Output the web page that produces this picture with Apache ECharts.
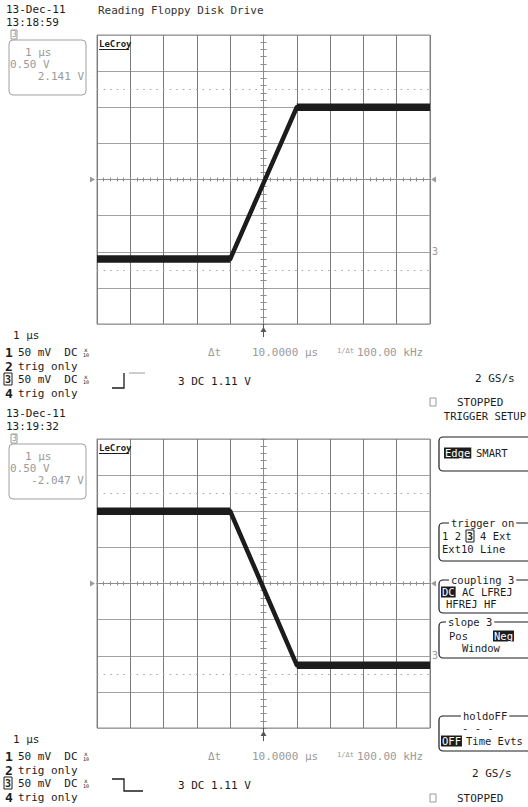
<!DOCTYPE html>
<html>
<head>
<meta charset="utf-8">
<title>Reading Floppy Disk Drive</title>
<script src="https://cdn.jsdelivr.net/npm/echarts@6/dist/echarts.min.js"></script>
<style>
  html, body { margin: 0; padding: 0; background: #fff; }
  #scope { width: 528px; height: 807px; }
</style>
</head>
<body>
<div id="scope"></div>
<script>
// Horizontal axis: microseconds, 1 µs/div, trigger at screen centre
const timeRange = [-5, 5];
const timeStep = 1;
// Vertical axis: volts, 0.50 V/div, channel 3 ground at 0 V
const voltRange = [-1, 3];
const voltStep = 0.5;
const groundVolts = 0;

// Capture 1 (13:18:59): rising edge, breakpoints [µs] / [V]
const risingTime = [-5, -1, 1, 5];
const risingVolts = [-0.1, -0.1, 2.0, 2.0];
// Capture 2 (13:19:32): falling edge
const fallingTime = [-5, -1, 1, 5];
const fallingVolts = [2.0, 2.0, -0.13, -0.13];

// Dotted horizontal cursors (V)
const cursorVolts = [2.25, -0.25];

// Screen geometry
const GRID_LEFT = 97, GRID_W = 333, GRID_H = 289;
const gridTops = [35, 439];

const INK = '#1c1c1c', DIM = '#9a9a9a', RULE = '#8c8c8c', DOT = '#a8a8a8';
const RULE_V = '#7c7c7c', RULE_H = '#a2a2a2';
const MONO = '"DejaVu Sans Mono", "Liberation Mono", monospace';
const MENU_FONT = 10.5, MENU_CHAR_W = 6.32;

const captures = [
  { time: risingTime, volts: risingVolts },
  { time: fallingTime, volts: fallingVolts }
];

const zip = (t, v) => t.map((x, i) => [x, v[i]]);

const grids = [], xAxes = [], yAxes = [], series = [];

captures.forEach((cap, gi) => {
  grids.push({ left: GRID_LEFT, top: gridTops[gi], width: GRID_W, height: GRID_H,
    show: true, borderColor: RULE, borderWidth: 1, backgroundColor: 'transparent' });

  const xBase = { gridIndex: gi, type: 'value', min: timeRange[0], max: timeRange[1], interval: timeStep,
    axisLabel: { show: false }, splitLine: { show: false } };
  const yBase = { gridIndex: gi, type: 'value', min: voltRange[0], max: voltRange[1], interval: voltStep,
    axisLabel: { show: false }, splitLine: { show: false } };

  // graticule
  xAxes.push(Object.assign({}, xBase, {
    axisLine: { show: false, onZero: false }, axisTick: { show: false },
    splitLine: { show: true, lineStyle: { color: RULE_V, width: 1 } } }));
  // centre horizontal line with 0.2 div ticks on both sides
  [false, true].forEach(inside => xAxes.push(Object.assign({}, xBase, {
    position: 'bottom', offset: -GRID_H / 2,
    axisLine: { show: true, onZero: false, lineStyle: { color: RULE, width: 1 } },
    axisTick: { show: true, inside, length: 2, lineStyle: { color: RULE } },
    minorTick: { show: true, splitNumber: 5, length: 2, lineStyle: { color: RULE } } })));

  yAxes.push(Object.assign({}, yBase, {
    axisLine: { show: false, onZero: false }, axisTick: { show: false },
    splitLine: { show: true, lineStyle: { color: RULE_H, width: 1 } } }));
  // centre vertical line with 0.2 div ticks on both sides
  [false, true].forEach(inside => yAxes.push(Object.assign({}, yBase, {
    position: 'left',
    axisLine: { show: true, onZero: true, lineStyle: { color: RULE, width: 1 } },
    axisTick: { show: true, inside, length: 3, lineStyle: { color: RULE } },
    minorTick: { show: true, splitNumber: 5, length: 3, lineStyle: { color: RULE } } })));

  const pts = zip(cap.time, cap.volts);
  const axisRef = { xAxisIndex: gi * 3, yAxisIndex: gi * 3 };

  series.push(Object.assign({
    type: 'line', data: pts, showSymbol: false, silent: true, animation: false, z: 5,
    lineStyle: { color: INK, width: 4.5, join: 'round' },
    markLine: {
      silent: true, symbol: 'none', animation: false,
      label: { show: false },
      lineStyle: { color: DOT, type: [1.6, 5], width: 1 },
      data: cursorVolts.map(v => ({ yAxis: v })).concat([{
        yAxis: groundVolts,
        lineStyle: { color: 'rgba(255,255,255,0)', width: 1, type: 'solid' },
        label: { show: true, position: 'end', formatter: '3', color: DIM, fontSize: 10,
                 fontFamily: MONO, distance: 2 } }])
    }
  }, axisRef));
  // noise band on the settled levels
  [pts.slice(0, 2), pts.slice(-2)].forEach(seg => series.push(Object.assign({
    type: 'line', data: seg, showSymbol: false, silent: true, animation: false, z: 4,
    lineStyle: { color: INK, width: 7.5, cap: 'butt' } }, axisRef)));
});

// ---- screen annotations ----
const G = [];
function text(x, y, s, o) {
  o = o || {};
  G.push({ type: 'text', silent: true, z: o.z || 20, style: {
    x, y, text: s, fill: o.fill || INK,
    font: (o.bold ? 'bold ' : '') + (o.size || 11) + 'px ' + MONO,
    align: o.align || 'left', verticalAlign: 'middle',
    textAlign: o.align || 'left', textVerticalAlign: 'middle',
    backgroundColor: o.bg, padding: o.pad } });
}
function mtext(x, y, s, o) { text(x, y, s, Object.assign({ size: MENU_FONT }, o || {})); }
function rect(x, y, w, h, o) {
  G.push({ type: 'rect', silent: true, z: o.z || 15, shape: { x, y, width: w, height: h, r: o.r || 0 },
    style: { fill: o.fill || 'none', stroke: o.stroke || null, lineWidth: o.lw || 1 } });
}
function poly(points, o) {
  G.push({ type: 'polyline', silent: true, z: 15, shape: { points },
    style: { stroke: o.stroke || INK, lineWidth: o.lw || 1, fill: null } });
}
function tri(points, color) {
  G.push({ type: 'polygon', silent: true, z: 15, shape: { points }, style: { fill: color } });
}
function inverse(x, y, s) {
  rect(x, y - 5.5, s.length * MENU_CHAR_W + 2, 11, { fill: INK });
  mtext(x + 1, y, s, { fill: '#fff' });
}
function boxedDigit(x, y, d, color) {
  rect(x - 1, y - 6, 8, 12, { stroke: color || INK, lw: 1 });
  text(x, y, d, { fill: color || INK, bold: true, size: 10 });
}
function titledBox(x, y, w, h, title, tx) {
  rect(x, y, w, h, { stroke: INK, lw: 1.2, r: 4 });
  mtext(tx, y, title, { bg: '#fff', pad: [0, 2] });
}

function panel(top, stamp, offsetText, rising) {
  const gy = top;                 // grid top
  const mid = gy + GRID_H / 2;    // centre line
  const below = gy + GRID_H;      // grid bottom
  const hy = gy - 35;             // header reference

  text(6, hy + 9, '13-Dec-11');
  text(6, hy + 22, stamp);

  // trace descriptor box
  rect(9, hy + 40, 77, 55, { stroke: '#a0a0a0', r: 4 });
  rect(11, hy + 30, 6, 9, { stroke: DIM, fill: '#fff' });
  text(12, hy + 34.5, '3', { fill: DIM, size: 8 });
  text(25, hy + 52, '1 µs', { fill: DIM });
  text(10, hy + 64, '0.50 V', { fill: DIM });
  text(84, hy + 76, offsetText, { fill: DIM, align: 'right' });

  // logo
  text(99, gy + 9, 'LeCroy', { bold: true, size: 9 });
  poly([[99, gy + 14.5], [129, gy + 14.5]], { stroke: INK, lw: 1 });

  // trigger position markers on the centre line
  tri([[90, mid - 3], [95, mid], [90, mid + 3]], DIM);
  tri([[436, mid - 3], [431, mid], [436, mid + 3]], DIM);
  // centre marker under the graticule
  poly([[263.5, below], [263.5, below + 13]], { stroke: '#555', lw: 1 });
  tri([[260.5, below + 8], [263.5, below + 3], [266.5, below + 8]], '#555');

  // footer
  text(13, below + 11, '1 µs');
  const rows = [below + 28, below + 42, below + 55, below + 69];
  text(5, rows[0], '1', { bold: true, size: 13 });
  text(18, rows[0], '50 mV  DC');
  text(5, rows[1], '2', { bold: true, size: 13 });
  text(18, rows[1], 'trig only');
  boxedDigit(5, rows[2], '3');
  text(18, rows[2], '50 mV  DC');
  text(5, rows[3], '4', { bold: true, size: 13 });
  text(18, rows[3], 'trig only');
  [rows[0], rows[2]].forEach(r => {
    text(84, r - 3, 'x', { size: 6 });
    text(83, r + 3, '10', { size: 5 });
  });

  // trigger slope symbol
  const sy = rows[2] + 2;
  if (rising) {
    poly([[112, sy + 7], [124, sy + 7], [124, sy - 8]], { stroke: INK, lw: 1.3 });
    poly([[129, sy - 8], [145, sy - 8]], { stroke: DIM, lw: 1 });
  } else {
    poly([[112, sy - 6], [124, sy - 6], [124, sy + 6], [143, sy + 6]], { stroke: INK, lw: 1.3 });
  }
  text(178, sy, '3 DC 1.11 V');

  // cursor readout
  text(208, rows[0], 'Δt', { fill: DIM });
  text(252, rows[0], '10.0000 µs', { fill: DIM });
  text(337, rows[0] - 1, '1/Δt', { fill: DIM, size: 7 });
  text(357, rows[0], '100.00 kHz', { fill: DIM });
}

panel(gridTops[0], '13:18:59', '2.141 V', true);
panel(gridTops[1], '13:19:32', '-2.047 V', false);

text(98, 10, 'Reading Floppy Disk Drive', { fill: '#333' });

// acquisition status (upper capture)
text(475, 378, '2 GS/s');
rect(430, 398, 6, 8, { stroke: DIM });
text(457, 402, 'STOPPED');

// trigger setup menu
mtext(526, 416, 'TRIGGER SETUP', { align: 'right' });
rect(439, 437, 100, 34, { stroke: INK, lw: 1.2, r: 4 });
inverse(444, 453, 'Edge');
mtext(476, 453, 'SMART');

titledBox(439, 523, 100, 38, 'trigger on', 449);
mtext(442, 536, '1 2');
boxedDigit(467, 536, '3');
mtext(480, 536, '4 Ext');
mtext(442, 549, 'Ext10 Line');

titledBox(439, 580, 100, 33, 'coupling 3', 449);
inverse(441, 592, 'DC');
mtext(462, 592, 'AC LFREJ');
mtext(446, 604, 'HFREJ HF');

titledBox(439, 622, 100, 36, 'slope 3', 446);
mtext(449, 636, 'Pos');
inverse(493, 636, 'Neg');
mtext(462, 648, 'Window');

titledBox(439, 716, 100, 35, 'holdoFF', 461);
mtext(462, 728, '- - -');
inverse(441, 741, 'OFF');
mtext(466, 741, 'Time Evts');

text(472, 773, '2 GS/s');
rect(430, 794, 6, 8, { stroke: DIM });
text(457, 798, 'STOPPED');

const chart = echarts.init(document.getElementById('scope'), null, { renderer: 'svg', width: 528, height: 807 });
chart.setOption({
  animation: false,
  backgroundColor: '#fff',
  grid: grids,
  xAxis: xAxes,
  yAxis: yAxes,
  series,
  graphic: { elements: G }
});
</script>
</body>
</html>
